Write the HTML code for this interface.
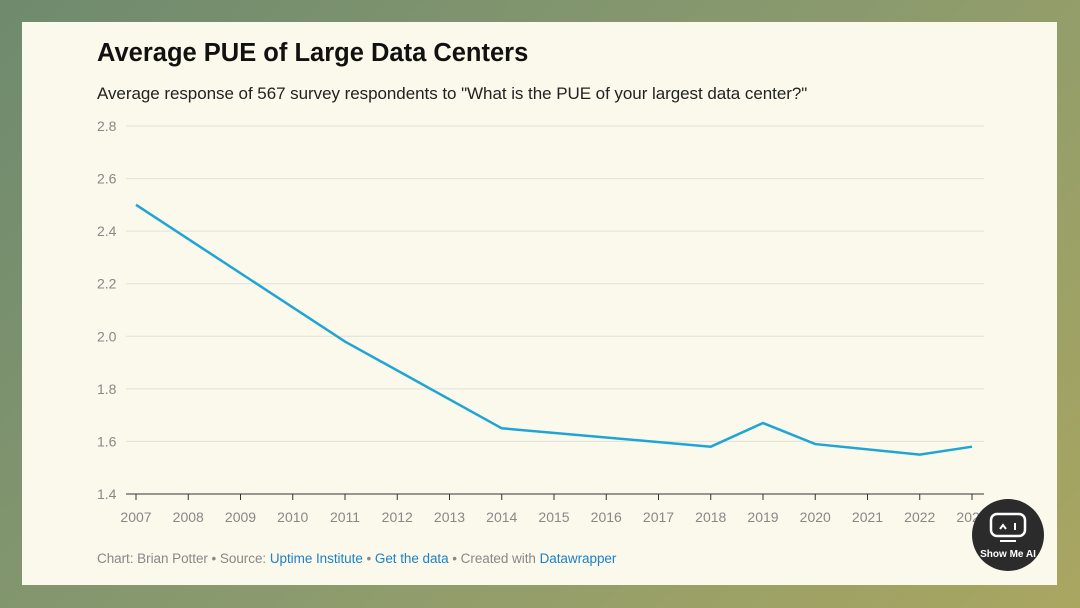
<!DOCTYPE html>
<html><head><meta charset="utf-8"><style>
body{margin:0;width:1080px;height:608px;overflow:hidden;background:linear-gradient(135deg,#6f8a6e 0%,#8a9a6e 50%,#a9a660 100%);font-family:"Liberation Sans",sans-serif;position:relative}
.card{position:absolute;left:22px;top:22px;width:1035px;height:563px;background:#fbf9ec}
.title{position:absolute;left:97px;top:39px;font-size:25.5px;font-weight:bold;color:#111}
.sub{position:absolute;left:97px;top:84px;font-size:17px;color:#222;letter-spacing:-0.05px}
.foot{position:absolute;left:97px;top:551px;font-size:13.5px;color:#888;letter-spacing:-0.05px}
.foot a{color:#1d81c8;text-decoration:none}
svg{position:absolute;left:0;top:0}
</style></head><body>
<div class="card"></div>
<div class="title">Average PUE of Large Data Centers</div>
<div class="sub">Average response of 567 survey respondents to "What is the PUE of your largest data center?"</div>
<svg id="c" width="1080" height="608"></svg>
<div class="foot">Chart: Brian Potter • Source: <a>Uptime Institute</a> • <a>Get the data</a> • Created with <a>Datawrapper</a></div>
<svg width="1080" height="608">
<circle cx="1008" cy="535" r="36" fill="#2b2b2b"/>
<rect x="991" y="514" width="34" height="22" rx="6" fill="none" stroke="#fff" stroke-width="2.5"/>
<path d="M1000 529 l3 -4 l3 4" stroke="#fff" stroke-width="2" fill="none"/>
<line x1="1015" y1="523" x2="1015" y2="530" stroke="#fff" stroke-width="2"/>
<line x1="1000" y1="541" x2="1016" y2="541" stroke="#fff" stroke-width="2"/>
<text x="1008" y="557" font-size="10" font-weight="bold" fill="#fff" text-anchor="middle" font-family="Liberation Sans">Show Me AI</text>
</svg>
<script>
const years=[2007,2011,2014,2018,2019,2020,2022,2023];
const values=[2.5,1.98,1.65,1.58,1.67,1.59,1.55,1.58];
const yTicks=[1.4,1.6,1.8,2.0,2.2,2.4,2.6,2.8];
const xTicks=[2007,2008,2009,2010,2011,2012,2013,2014,2015,2016,2017,2018,2019,2020,2021,2022,2023];
const x=v=>136+(v-2007)*52.25;
const y=v=>494-(v-1.4)/1.4*368;
const s=document.getElementById('c');const NS='http://www.w3.org/2000/svg';
function mk(t,a){const e=document.createElementNS(NS,t);for(const k in a)e.setAttribute(k,a[k]);s.appendChild(e);return e;}
yTicks.forEach(v=>{
 const l=mk('line',{x1:126,x2:984,y1:y(v),y2:y(v),stroke:v===1.4?'#333':'#e3e1d6','stroke-width':1});
 
 
 const t=mk('text',{x:97,y:y(v)+5,'font-size':14,fill:'#888','font-family':'Liberation Sans'});
 t.textContent=v.toFixed(1);
 
 
});
xTicks.forEach(v=>{
 const l=mk('line',{x1:x(v),x2:x(v),y1:494,y2:500,stroke:'#333'});
 
 
 const t=mk('text',{x:x(v),y:522,'font-size':14,fill:'#888','text-anchor':'middle','font-family':'Liberation Sans'});
 t.textContent=v;
 
 
});
const p=mk('polyline',{points:years.map((yr,i)=>x(yr)+','+y(values[i])).join(' '),fill:'none',stroke:'#1ea5d6','stroke-width':2.5});


</script>
</body></html>
